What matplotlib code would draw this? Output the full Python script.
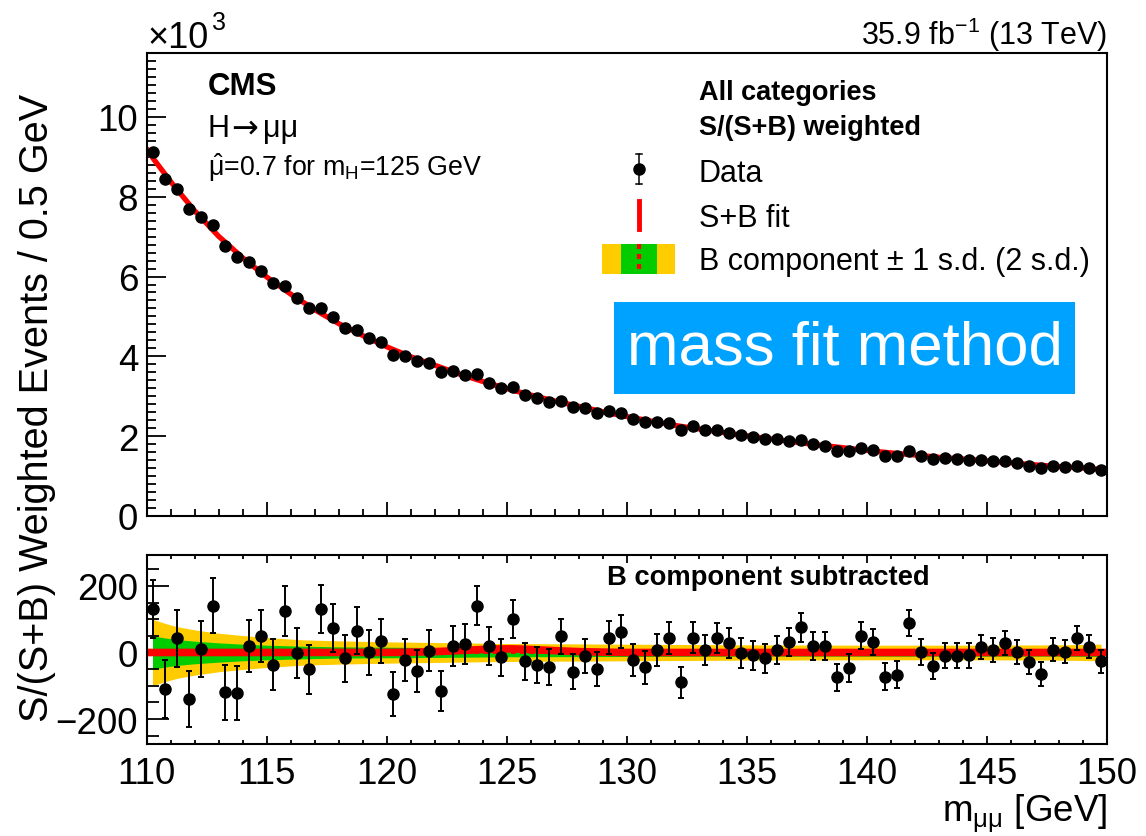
import numpy as np
import matplotlib
matplotlib.use("Agg")
import matplotlib.pyplot as plt
from matplotlib.patches import Rectangle
from matplotlib.lines import Line2D
from matplotlib.ticker import MultipleLocator

plt.rcParams['font.family'] = ['Liberation Sans', 'DejaVu Sans']
plt.rcParams['mathtext.fontset'] = 'custom'
plt.rcParams['mathtext.rm'] = 'Liberation Sans'
plt.rcParams['mathtext.it'] = 'Liberation Sans:italic'
plt.rcParams['mathtext.bf'] = 'Liberation Sans:bold'
plt.rcParams['axes.unicode_minus'] = True

# ---------------- data ----------------
bin_lo, bin_hi, bin_w = 110.0, 150.0, 0.5
mass = np.arange(bin_lo + bin_w / 2, bin_hi, bin_w)   # 80 bin centres

# weighted events (x10^3) per bin
data_top = [9.11, 8.45, 8.20, 7.68, 7.48, 7.29, 6.76, 6.48, 6.36, 6.15,
            5.84, 5.77, 5.46, 5.21, 5.21, 4.98, 4.71, 4.66, 4.45, 4.35,
            4.04, 4.02, 3.88, 3.83, 3.60, 3.63, 3.53, 3.56, 3.33, 3.21,
            3.24, 3.03, 2.95, 2.86, 2.89, 2.72, 2.70, 2.58, 2.62, 2.57,
            2.43, 2.35, 2.36, 2.33, 2.16, 2.25, 2.16, 2.16, 2.08, 2.03,
            1.97, 1.93, 1.93, 1.89, 1.90, 1.80, 1.76, 1.64, 1.64, 1.71,
            1.65, 1.51, 1.50, 1.63, 1.51, 1.43, 1.45, 1.43, 1.40, 1.40,
            1.37, 1.37, 1.32, 1.26, 1.20, 1.26, 1.22, 1.26, 1.20, 1.14]

# B-component-subtracted residuals per bin
resid = [131, -110, 43, -140, 10, 141, -120, -123, 20, 49,
         -37, 125, -2, -50, 131, 74, -17, 66, 1, 34,
         -125, -23, -57, 5, -116, 19, 26, 141, 20, -15,
         101, -27, -38, -43, 49, -58, -11, -50, 44, 63,
         -23, -45, 8, 43, -90, 44, 8, 44, 29, -2,
         -8, -17, 8, 31, 76, 20, 20, -75, -47, 51,
         31, -73, -67, 89, 1, -40, -10, -10, -8, 16,
         8, 28, 1, -28, -65, 8, 2, 44, 17, -26]

# statistical uncertainties per bin (weighted events)
err = [88, 87, 86, 85, 84, 83, 82, 81, 79, 78,
       77, 76, 75, 74, 73, 72, 71, 70, 68, 67,
       65, 64, 63, 62, 61, 60, 60, 59, 58, 57,
       56, 55, 55, 54, 53, 52, 52, 51, 50, 50,
       49, 49, 48, 48, 47, 47, 46, 46, 45, 45,
       44, 44, 43, 43, 43, 42, 42, 41, 41, 41,
       40, 40, 40, 39, 39, 39, 38, 38, 38, 37,
       37, 37, 36, 36, 36, 35, 35, 35, 35, 35]

# S+B fit curve (x10^3)
fit_x = [110, 110.25, 111, 112, 113, 114, 115, 116, 117, 118, 119, 120, 121, 122,
         123, 124, 125, 126, 127, 128, 129, 130, 131, 132, 133, 134, 135, 136,
         137, 138, 139, 140, 141, 142, 143, 144, 145, 146, 147, 148, 149, 150]
fit_y = [9.20, 8.98, 8.38, 7.65, 7.01, 6.47, 5.99, 5.56, 5.17, 4.82, 4.52, 4.24,
         3.99, 3.78, 3.56, 3.37, 3.19, 3.03, 2.88, 2.75, 2.61, 2.49, 2.38, 2.27,
         2.18, 2.09, 2.01, 1.93, 1.85, 1.78, 1.71, 1.64, 1.58, 1.53, 1.47, 1.43,
         1.38, 1.33, 1.28, 1.24, 1.20, 1.16]

# B component uncertainty bands (half widths) in the lower panel
band_x = [110.25, 110.75, 111.25, 112, 113, 114, 115, 116.5, 118, 120, 122,
          125, 130, 135, 140, 145, 148, 149.75]
band_2sd = [100, 88, 78, 68, 58, 51, 45, 38, 35, 32, 30, 27, 25, 23, 22, 22, 23, 25]
band_1sd = [50, 44, 39, 34, 29, 25, 22, 19, 17, 16, 15, 13, 12, 11, 11, 11, 11, 12]

# signal part of the S+B fit in the lower panel
sig_x = [110, 120, 121, 122, 123, 124, 124.5, 125, 125.5, 126, 127, 128, 129, 130, 150]
sig_y = [0, 0, 1, 2.5, 5.5, 9, 10.5, 11, 10.5, 9, 5.5, 2.5, 1, 0, 0]

# ---------------- figure ----------------
W, H = 1146, 837
fig = plt.figure(figsize=(W / 100, H / 100), dpi=100)


def fx(px):
    return px / W


def fy(py):
    return 1 - py / H


L, R = 146.5, 1107
ax1 = fig.add_axes([fx(L), fy(517), (R - L) / W, (517 - 54) / H])
ax2 = fig.add_axes([fx(L), fy(745), (R - L) / W, (745 - 556) / H])

RED = '#FF0000'
YEL = '#FFCC00'
GRN = '#00CC00'
MS = 8.0

# top panel
xf = np.linspace(bin_lo, bin_hi, 801)
ax1.plot(xf, np.interp(xf, fit_x, fit_y), color=RED, lw=3.8, zorder=2)
ax1.errorbar(mass, data_top, yerr=np.asarray(err) / 1000.0, fmt='o', color='black',
             ms=MS, elinewidth=1.2, capsize=0, zorder=3)
ax1.set_xlim(bin_lo, bin_hi)
ax1.set_ylim(0, 11.6)
ax1.xaxis.set_major_locator(MultipleLocator(5))
ax1.xaxis.set_minor_locator(MultipleLocator(1))
ax1.yaxis.set_major_locator(MultipleLocator(2))
ax1.yaxis.set_minor_locator(MultipleLocator(0.2))
ax1.tick_params(axis='both', which='both', direction='in', top=False, right=False,
                width=1.3, labelsize=26.5)
ax1.tick_params(axis='x', which='major', length=10, labelbottom=False)
ax1.tick_params(axis='x', which='minor', length=5)
ax1.tick_params(axis='y', which='major', length=13.5, pad=6)
ax1.tick_params(axis='y', which='minor', length=6.5)
for s in ax1.spines.values():
    s.set_linewidth(1.5)

# bottom panel
xb = np.linspace(band_x[0], band_x[-1], 600)
b2 = np.interp(xb, band_x, band_2sd)
b1 = np.interp(xb, band_x, band_1sd)
ax2.fill_between(xb, -b2, b2, color=YEL, lw=0, zorder=1)
ax2.fill_between(xb, -b1, b1, color=GRN, lw=0, zorder=1.1)
ax2.hlines(0, band_x[0], band_x[-1], colors=RED, linestyles=(0, (1.5, 1.5)), lw=2.2, zorder=1.2)
ax2.plot(xf, np.interp(xf, sig_x, sig_y), color=RED, lw=5.5, zorder=2)
ax2.errorbar(mass, resid, yerr=err, fmt='o', color='black', ms=MS, elinewidth=1.4,
             capsize=2.4, capthick=1.4, zorder=3)
ax2.set_xlim(bin_lo, bin_hi)
ax2.set_ylim(-275, 293)
ax2.xaxis.set_major_locator(MultipleLocator(5))
ax2.xaxis.set_minor_locator(MultipleLocator(1))
ax2.yaxis.set_major_locator(MultipleLocator(200))
ax2.yaxis.set_minor_locator(MultipleLocator(50))
ax2.tick_params(axis='both', which='both', direction='in', top=True, right=False,
                width=1.3, labelsize=26.5)
ax2.tick_params(axis='x', which='major', length=6, pad=9)
ax2.tick_params(axis='x', which='minor', length=3)
ax2.tick_params(axis='y', which='major', length=16, pad=6)
ax2.tick_params(axis='y', which='minor', length=8.5)
for s in ax2.spines.values():
    s.set_linewidth(1.5)


def T(x, y, s, **kw):
    kw.setdefault('va', 'baseline')
    return fig.text(fx(x), fy(y), s, **kw)


# axis labels
T(37, 408, 'S/(S+B) Weighted Events / 0.5 GeV', rotation=90, ha='center', va='center', fontsize=28.5)
T(1107, 822, r'm$_{\mathrm{\mu\mu}}$ [GeV]', ha='right', fontsize=26.5)

# header texts
T(147, 48, '×10', fontsize=26)
T(212, 30, '3', fontsize=18)
T(1107, 45, r'35.9 fb$^{-1}$ (13 TeV)', ha='right', fontsize=22)
T(208, 95, 'CMS', fontsize=22.5, fontweight='bold')
T(208, 137, 'H', fontsize=22)
T(231, 137, '→', fontsize=23, family=['DejaVu Sans'])
T(263, 137, 'μμ', fontsize=22)
T(208, 176, r'$\hat{\mathrm{\mu}}$=0.7 for m$_{\mathrm{H}}$=125 GeV', fontsize=19.3)

# legend
T(699, 100, 'All categories', fontsize=19.5, fontweight='bold')
T(699, 135, 'S/(S+B) weighted', fontsize=19.5, fontweight='bold')
T(699, 182, 'Data', fontsize=22)
T(699, 227, 'S+B fit', fontsize=22)
T(699, 270, 'B component ± 1 s.d. (2 s.d.)', fontsize=22)

mx = 638.6
fig.add_artist(Line2D([fx(mx), fx(mx)], [fy(155), fy(185)], color='black', lw=1.1,
                      transform=fig.transFigure))
for yy in (155, 185):
    fig.add_artist(Line2D([fx(mx - 3), fx(mx + 3)], [fy(yy), fy(yy)], color='black', lw=1.1,
                          transform=fig.transFigure))
fig.add_artist(Line2D([fx(mx)], [fy(170)], marker='o', color='black', ms=MS,
                      transform=fig.transFigure))
fig.add_artist(Line2D([fx(mx), fx(mx)], [fy(201.7), fy(230)], color=RED, lw=3.5,
                      transform=fig.transFigure))
fig.add_artist(Rectangle((fx(602), fy(275)), (675 - 602) / W, 30 / H, color=YEL, lw=0,
                         transform=fig.transFigure))
fig.add_artist(Rectangle((fx(621), fy(275)), (657 - 621) / W, 30 / H, color=GRN, lw=0,
                         transform=fig.transFigure))
fig.add_artist(Line2D([fx(mx), fx(mx)], [fy(245), fy(275)], color=RED, lw=3,
                      ls=(0, (1.2, 1.2)), transform=fig.transFigure))

# method box
fig.add_artist(Rectangle((fx(614), fy(395)), (1075 - 614) / W, (395 - 303) / H,
                         color='#00A2FF', lw=0, transform=fig.transFigure))
T(844.5, 349, 'mass fit method', ha='center', va='center', fontsize=44.5, color='white')

# lower panel title
T(768.5, 585, 'B component subtracted', ha='center', fontsize=19.7, fontweight='bold')

fig.savefig('out.png', dpi=100)
